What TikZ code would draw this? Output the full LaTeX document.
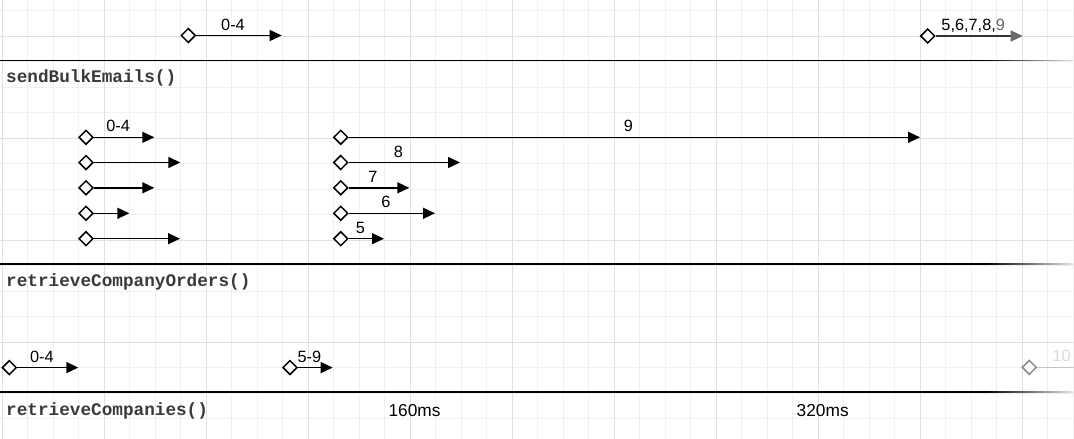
\documentclass[tikz,border=0pt]{standalone}
\usepackage{fontspec}
\setmainfont{Liberation Sans}
\newfontfamily\codefont{Liberation Mono}
\usetikzlibrary{arrows.meta,shapes.geometric}
\definecolor{gridmajor}{HTML}{E0E0E0}
\definecolor{gridminor}{HTML}{F0F0F0}
\definecolor{codegray}{HTML}{3A3A3A}
\definecolor{fadegray}{HTML}{8A8A8A}
\definecolor{fadeline}{HTML}{C4C4C4}
\definecolor{fadetext}{HTML}{DADADA}
\definecolor{tipgray}{HTML}{6A6A6A}
\tikzset{
  minorline/.style={draw=gridminor,line width=1pt},
  majorline/.style={draw=gridmajor,line width=1pt},
  sepline/.style={line width=1.6pt},
  dia/.style={shape=diamond,draw=black,fill=white,line width=1.5pt,minimum width=14.5pt,minimum height=14.5pt,inner sep=0pt},
  conn/.style={draw=black,line width=1.5pt,-{Triangle[length=12pt,width=11pt]}},
  lbl/.style={midway,anchor=base,yshift=5.5pt,xshift=-6pt,inner sep=0pt,font=\fontsize{16.3}{18}\selectfont},
  codelbl/.style={anchor=west,inner sep=0pt,text=codegray,font=\codefont\bfseries\fontsize{17.7}{20}\selectfont},
  timelbl/.style={inner sep=0pt,font=\fontsize{17.3}{20}\selectfont},
}
\begin{document}
\begin{tikzpicture}[x=1pt,y=-1pt]
\useasboundingbox (0,0) rectangle (1074,439);
\clip (0,0) rectangle (1074,439);
\fill[white] (0,0) rectangle (1074,439);
% grid
\foreach \i in {0,...,42} {\draw[minorline] ({2+25.5*\i},0) -- ({2+25.5*\i},439);}
\foreach \j in {0,...,16} {\draw[minorline] (0,{10.5+25.5*\j}) -- (1074,{10.5+25.5*\j});}
\foreach \i in {0,...,10} {\draw[majorline] ({2+102*\i},0) -- ({2+102*\i},439);}
\foreach \j in {0,...,4} {\draw[majorline] (0,{36+102*\j}) -- (1074,{36+102*\j});}
% separator lines with faded right ends
\foreach \yy in {60.5,264,392} {
  \draw[sepline] (0,\yy) -- (985.5,\yy);
  \foreach \k in {0,...,29} {
    \pgfmathsetmacro{\pct}{100-3.1*\k}
    \draw[sepline,draw=black!\pct,line cap=butt] ({985+3*\k},\yy) -- ({988.2+3*\k},\yy);
  }
}
% section labels
\node[codelbl] (lab1) at (6,77.5) {sendBulkEmails()};
\node[codelbl] (lab2) at (6,281.5) {retrieveCompanyOrders()};
\node[codelbl] (lab3) at (6,410.5) {retrieveCompanies()};
% top row
\node[dia] (a1) at (188.3,35.5) {};
\coordinate (a1t) at (281.7,35.5);
\draw[conn] (a1) -- (a1t) node[lbl] {0-4};
\node[dia] (a2) at (927.7,36) {};
\coordinate (a2t) at (1022.7,36);
\draw[conn,draw=black!80,-{Triangle[length=12pt,width=11pt,color=tipgray]}] (a2) -- (a2t) node[lbl] {5,6,7,8,{\color{black!60}9}};
% sendBulkEmails left group
\node[dia] (b1) at (86,137.3) {};
\coordinate (b1t) at (154.3,137.3);
\draw[conn] (b1) -- (b1t) node[lbl] {0-4};
\node[dia] (b2) at (86,162.5) {};
\coordinate (b2t) at (180.3,162.5);
\draw[conn] (b2) -- (b2t);
\node[dia] (b3) at (86,187.8) {};
\coordinate (b3t) at (154.3,187.8);
\draw[conn] (b3) -- (b3t);
\node[dia] (b4) at (86,213.3) {};
\coordinate (b4t) at (129.3,213.3);
\draw[conn] (b4) -- (b4t);
\node[dia] (b5) at (86,238.7) {};
\coordinate (b5t) at (180,238.7);
\draw[conn] (b5) -- (b5t);
% sendBulkEmails right group
\node[dia] (c9) at (340.7,137.3) {};
\coordinate (c9t) at (920,137.3);
\draw[conn] (c9) -- (c9t) node[lbl] {9};
\node[dia] (c8) at (340.7,162.5) {};
\coordinate (c8t) at (460,162.5);
\draw[conn] (c8) -- (c8t) node[lbl] {8};
\node[dia] (c7) at (340.7,187.8) {};
\coordinate (c7t) at (409.3,187.8);
\draw[conn] (c7) -- (c7t) node[lbl] {7};
\node[dia] (c6) at (340.7,213.3) {};
\coordinate (c6t) at (435,213.3);
\draw[conn] (c6) -- (c6t) node[lbl] {6};
\node[dia] (c5) at (340.7,238.7) {};
\coordinate (c5t) at (384,238.7);
\draw[conn] (c5) -- (c5t) node[lbl] {5};
% retrieveCompanyOrders row
\node[dia] (d1) at (9.3,367.6) {};
\coordinate (d1t) at (78.3,367.6);
\draw[conn] (d1) -- (d1t) node[lbl] {0-4};
\node[dia] (d2) at (290,367.6) {};
\coordinate (d2t) at (332.7,367.6);
\draw[conn] (d2) -- (d2t) node[lbl] {5-9};
\node[dia,draw=fadegray] (d3) at (1029.3,367.4) {};
\coordinate (d3t) at (1098,367.4);
\draw[conn,draw=fadeline] (d3) -- (d3t) node[lbl,text=fadetext] {10};
% time labels
\node[timelbl] (t160) at (414.5,410.5) {160ms};
\node[timelbl] (t320) at (822.7,410.5) {320ms};
\end{tikzpicture}
\end{document}
